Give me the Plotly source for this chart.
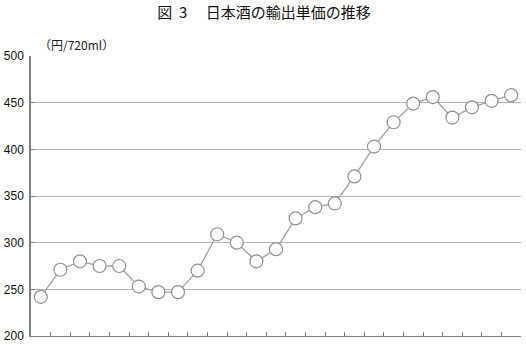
import plotly.graph_objects as go

periods = list(range(1, 26))
unit_price = [242, 271, 280, 275, 275, 253, 247, 247, 270, 309, 300, 280, 293,
              326, 338, 342, 371, 403, 429, 449, 456, 434, 445, 452, 458]
y_ticks = [200, 250, 300, 350, 400, 450, 500]
title_text = "図\u00a0\u00a03\u3000\u00a0日本酒の輸出単価の推移"
unit_text = "（円/720ml）"

fig = go.Figure()
fig.add_trace(go.Scatter(
    x=periods, y=unit_price, mode="lines+markers",
    line=dict(color="#a0a0a0", width=1.3),
    marker=dict(size=13, color="white", line=dict(color="#909090", width=1.2)),
    cliponaxis=False, showlegend=False,
))

fig.update_layout(
    width=526, height=345,
    margin=dict(l=31, r=5, t=56, b=9, autoexpand=False),
    paper_bgcolor="white", plot_bgcolor="white",
    font=dict(family="Liberation Sans, Arial, sans-serif", color="#222", size=12),
    title=dict(text=title_text, x=0.502, xanchor="center", y=0.962, yanchor="middle",
               font=dict(family="Noto Sans CJK JP", size=15, color="#111")),
    annotations=[dict(text=unit_text, xref="paper", yref="paper", x=0.0, y=1.0,
                      xshift=6, yshift=12, xanchor="left", yanchor="middle", showarrow=False,
                      font=dict(family="Noto Sans CJK JP", size=12, color="#222"))],
)
fig.update_xaxes(
    range=[0.5, 25.5], showgrid=False, zeroline=False, automargin=False,
    showline=True, linecolor="#808080", linewidth=1,
    tickmode="array", tickvals=[p + 0.5 for p in periods], ticktext=[""] * len(periods),
    ticks="inside", ticklen=4, tickcolor="#808080", tickwidth=1,
)
fig.update_yaxes(
    range=[200, 500], tickmode="array", tickvals=y_ticks, automargin=False,
    showgrid=True, gridcolor="#b4b4b4", gridwidth=1, zeroline=False,
    showline=True, linecolor="#808080", linewidth=1.5,
    ticks="inside", ticklen=4, tickcolor="#808080",
    ticklabelstandoff=3,
    tickfont=dict(family="Liberation Sans, Arial, sans-serif", size=12, color="#111"),
)

fig.write_html("out.html")
